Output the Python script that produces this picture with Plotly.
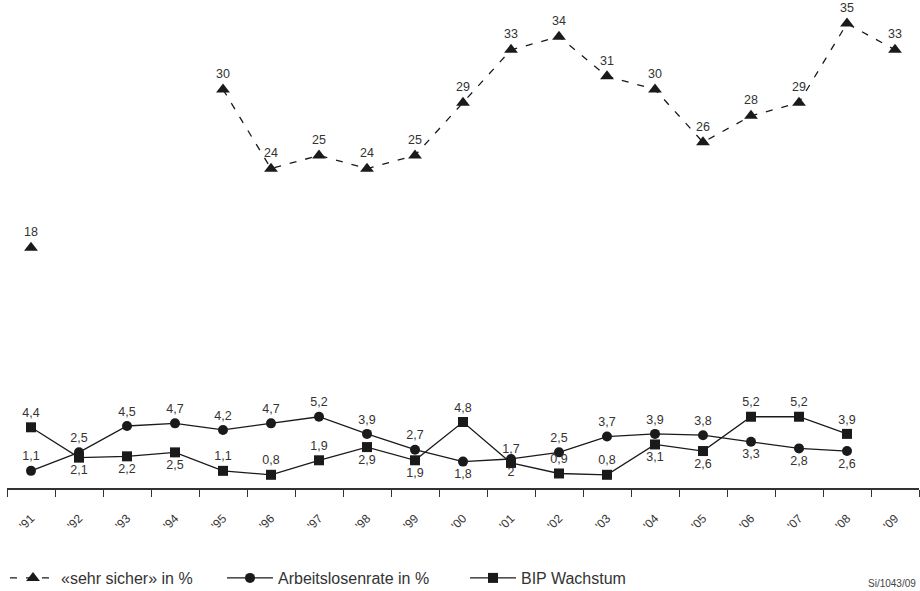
import plotly.graph_objects as go

years = ["'91", "'92", "'93", "'94", "'95", "'96", "'97", "'98", "'99", "'00",
         "'01", "'02", "'03", "'04", "'05", "'06", "'07", "'08", "'09"]
sehr_sicher = [18, None, None, None, 30, 24, 25, 24, 25, 29, 33, 34, 31, 30, 26, 28, 29, 35, 33]
arbeitslosen = [1.1, 2.5, 4.5, 4.7, 4.2, 4.7, 5.2, 3.9, 2.7, 1.8, 2.0, 2.5, 3.7, 3.9, 3.8, 3.3, 2.8, 2.6, None]
bip = [4.4, 2.1, 2.2, 2.5, 1.1, 0.8, 1.9, 2.9, 1.9, 4.8, 1.7, 0.9, 0.8, 3.1, 2.6, 5.2, 5.2, 3.9, None]

arb_side = ["top", "top", "top", "top", "top", "top", "top", "top", "top", "bottom",
            "bottom", "top", "top", "top", "top", "bottom", "bottom", "bottom", "top"]
bip_side = ["top", "bottom", "bottom", "bottom", "top", "top", "top", "bottom", "bottom", "top",
            "top", "top", "top", "bottom", "bottom", "top", "top", "top", "top"]


def fmt(v):
    if v is None:
        return ""
    s = ("%g" % v)
    return s.replace(".", ",")


W, H = 920, 591
ML, MR, MT, MB = 7, 1, 5, 103
PW = W - ML - MR
PH = H - MT - MB


def px_x(p):
    return (p - ML) / PW


def px_y(p):
    return (H - MB - p) / PH


INK = "#1a1a1a"
TXT = "#333333"
FONT = "Liberation Sans, Arial, sans-serif"

fig = go.Figure()

fig.add_trace(go.Scatter(
    x=years, y=sehr_sicher, name="«sehr sicher» in %",
    mode="lines+markers+text",
    line=dict(color=INK, width=1.3, dash="7px,9px"),
    marker=dict(symbol="triangle-up", size=12, color=INK),
    text=[fmt(v) for v in sehr_sicher], textposition="top center",
    textfont=dict(size=12.5, color=TXT, family=FONT),
    connectgaps=False, legend="legend", cliponaxis=False,
))
fig.add_trace(go.Scatter(
    x=years, y=arbeitslosen, name="Arbeitslosenrate in %",
    mode="lines+markers+text",
    line=dict(color=INK, width=1.3),
    marker=dict(symbol="circle", size=10, color=INK),
    text=[fmt(v) for v in arbeitslosen], textposition=[s + " center" for s in arb_side],
    textfont=dict(size=12.5, color=TXT, family=FONT),
    legend="legend2", cliponaxis=False,
))
fig.add_trace(go.Scatter(
    x=years, y=bip, name="BIP Wachstum",
    mode="lines+markers+text",
    line=dict(color=INK, width=1.3),
    marker=dict(symbol="square", size=10, color=INK),
    text=[fmt(v) for v in bip], textposition=[s + " center" for s in bip_side],
    textfont=dict(size=12.5, color=TXT, family=FONT),
    legend="legend3", cliponaxis=False,
))

leg_common = dict(orientation="h", xanchor="left", yanchor="middle",
                  font=dict(size=16, color=TXT, family=FONT),
                  bgcolor="rgba(0,0,0,0)", borderwidth=0, itemwidth=46)

fig.update_layout(
    template="none",
    width=W, height=H,
    margin=dict(l=ML, r=MR, t=MT, b=MB, autoexpand=False),
    paper_bgcolor="white", plot_bgcolor="white",
    font=dict(family=FONT, color=TXT),
    showlegend=True,
    legend=dict(x=px_x(5), y=px_y(578), **leg_common),
    legend2=dict(x=px_x(222), y=px_y(578), **leg_common),
    legend3=dict(x=px_x(465), y=px_y(578), **leg_common),
    xaxis=dict(
        type="category", tickson="boundaries",
        showline=True, linecolor="#333333", linewidth=1.5,
        ticks="outside", ticklen=7, tickcolor="#333333", tickwidth=1,
        tickangle=-45, tickfont=dict(size=12, color=TXT, family=FONT),
        ticklabelstandoff=17,
        showgrid=False, zeroline=False, automargin=False,
        range=[-0.5, 18.5],
    ),
    yaxis=dict(range=[-0.2, 36.4], visible=False, showgrid=False, zeroline=False),
    annotations=[dict(
        text="Si/1043/09", x=px_x(918), xref="paper", xanchor="right",
        y=px_y(583), yref="paper", yanchor="middle", showarrow=False,
        font=dict(size=10, color="#444444", family=FONT),
    )],
)

fig.write_html("out.html", config={"displayModeBar": False},
               post_script="document.body.style.margin='0';")
